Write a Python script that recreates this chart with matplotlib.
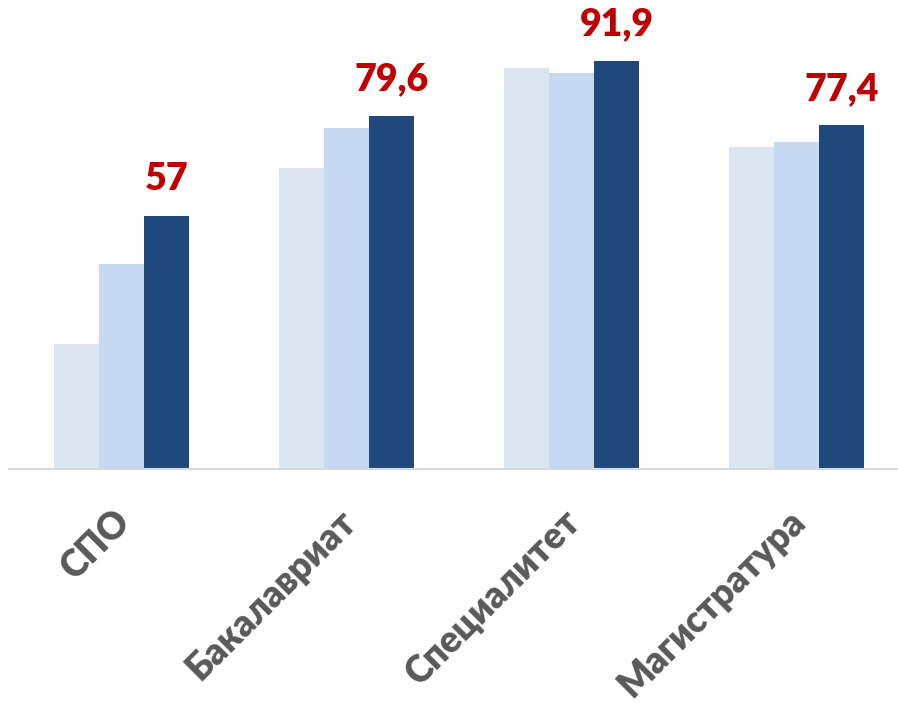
import matplotlib
matplotlib.use("Agg")
import matplotlib.pyplot as plt
import numpy as np

# данные
categories = ["СПО", "Бакалавриат", "Специалитет", "Магистратура"]
series_1 = [28.1, 67.8, 90.3, 72.6]
series_2 = [46.1, 76.8, 89.3, 73.6]
series_3 = [57, 79.6, 91.9, 77.4]
labels_3 = ["57", "79,6", "91,9", "77,4"]

colors = ["#DCE6F2", "#C6D9F1", "#1F497D"]

plt.rcParams['font.family'] = ['Lato', 'Open Sans', 'DejaVu Sans']

W, H = 898, 706
fig = plt.figure(figsize=(W / 100, H / 100), dpi=100)
left = 9.4
base = 469
ax = fig.add_axes([left / W, (H - base) / H, (W - left) / W, base / H])

x = np.arange(len(categories))
bw = 0.2
for k, vals in enumerate([series_1, series_2, series_3]):
    ax.bar(x + (k - 1) * bw, vals, width=bw, color=colors[k], edgecolor="none")

# подписи значений
for xi, v, lab in zip(x, series_3, labels_3):
    ax.annotate(lab, (xi + bw, v), xytext=(0, 14), textcoords="offset points",
                ha="center", va="bottom", color="#C00000", fontsize=27,
                fontweight="heavy")

ax.set_xlim(-0.5, -0.5 + (W - left) / 225)
ax.set_ylim(0, base / 4.44)

for s in ["top", "right", "left"]:
    ax.spines[s].set_visible(False)
ax.spines["bottom"].set_color("#D9D9D9")
ax.spines["bottom"].set_linewidth(1.5)
ax.set_yticks([])
ax.set_xticks(x - 0.04)
ax.set_xticklabels(categories, rotation=45, ha="right", va="top",
                   rotation_mode="anchor", fontsize=26.5, fontweight="heavy",
                   color="#595959")
ax.tick_params(axis="x", length=0, pad=25)

fig.savefig("out.png", dpi=100)
